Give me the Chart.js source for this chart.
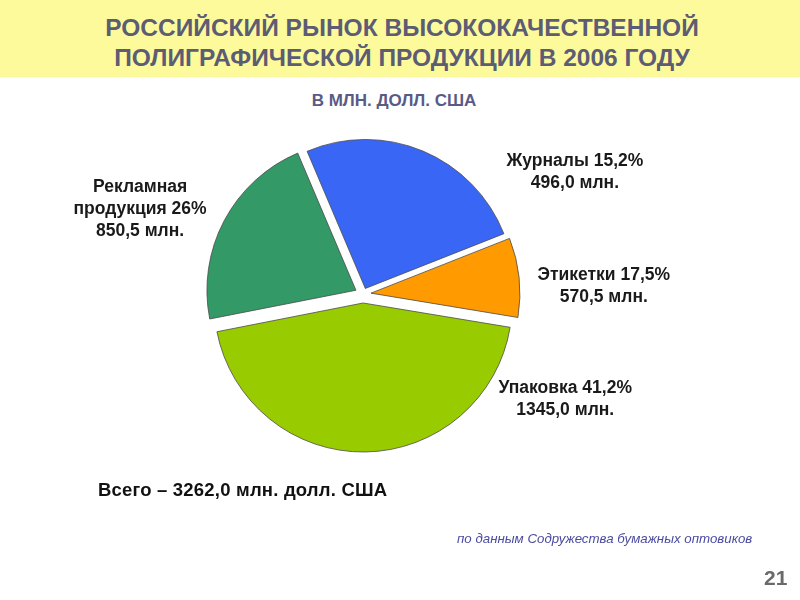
<!DOCTYPE html>
<html>
<head>
<meta charset="utf-8">
<script src="https://cdn.jsdelivr.net/npm/chart.js@4"></script>
<style>
    html, body { margin: 0; padding: 0; background: #ffffff; }
    body { width: 800px; height: 600px; position: relative; overflow: hidden; font-family: "Liberation Sans", Arial, sans-serif; }
    .band { position: absolute; left: 0; top: 0; width: 800px; height: 77px; background: #fdfa9c; }
    .title { position: absolute; left: 0; top: 13px; width: 804px; text-align: center; font-weight: bold; font-size: 24.5px; line-height: 30px; color: #5c5c74; }
    .sub { position: absolute; left: 0; top: 91px; width: 788px; text-align: center; font-weight: bold; font-size: 17px; color: #5a5a86; }
    .lbl { position: absolute; font-weight: bold; font-size: 17.5px; line-height: 22px; color: #1a1a1a; text-align: center; white-space: nowrap; }
    .total { position: absolute; left: 98px; top: 479px; font-weight: bold; font-size: 18.5px; letter-spacing: 0.2px; color: #111; }
    .src { position: absolute; left: 457px; top: 531px; font-style: italic; font-size: 13.3px; color: #4b4ba0; }
    .page { position: absolute; left: 764px; top: 566px; font-weight: bold; font-size: 21px; color: #6a6a6a; }
    #pieChart { position: absolute; left: 0; top: 0; }
</style>
</head>
<body>
<div class="band"></div>
<div class="title">РОССИЙСКИЙ РЫНОК ВЫСОКОКАЧЕСТВЕННОЙ<br>ПОЛИГРАФИЧЕСКОЙ ПРОДУКЦИИ В 2006 ГОДУ</div>
<div class="sub">В МЛН. ДОЛЛ. США</div>
<canvas id="pieChart" width="800" height="600"></canvas>
<div id="labels"></div>
<div class="total">Всего – 3262,0 млн. долл. США</div>
<div class="src">по данным Содружества бумажных оптовиков</div>
<div class="page">21</div>

<script>
// ================== DATA ==================
// slice order clockwise from the blue one
const categories = ['Журналы', 'Этикетки', 'Упаковка', 'Рекламная продукция'];
// slice sizes as drawn in the picture (% of circle)
const sliceShares = [25.4, 8.6, 44.3, 21.7];
const labelShares = ['15,2%', '17,5%', '41,2%', '26%'];
const labelAmounts = ['496,0 млн.', '570,5 млн.', '1345,0 млн.', '850,5 млн.'];
const sliceColors = ['#3a66f6', '#ff9a00', '#99cc00', '#339966'];

// how far each slice is pulled out of the pie (px)
const explodeBy = [6, 8, 9, 8];

// ================== LABELS ==================
const labelBoxes = [
    { x: 575, y: 149, lines: [categories[0] + ' ' + labelShares[0], labelAmounts[0]] },
    { x: 604, y: 263, lines: [categories[1] + ' ' + labelShares[1], labelAmounts[1]] },
    { x: 565, y: 376, lines: [categories[2] + ' ' + labelShares[2], labelAmounts[2]] },
    { x: 140, y: 175, lines: ['Рекламная', 'продукция ' + labelShares[3], labelAmounts[3]] }
];

const holder = document.getElementById('labels');
labelBoxes.forEach(b => {
    const d = document.createElement('div');
    d.className = 'lbl';
    d.innerHTML = b.lines.join('<br>');
    d.style.top = b.y + 'px';
    holder.appendChild(d);
    d.style.left = (b.x - d.offsetWidth / 2) + 'px';
});

// ================== EXPLODED SLICES ==================
// the built-in offset also grows the radius, so shift each arc by hand
const explodePlugin = {
    id: 'explode',
    beforeDatasetsDraw(chart) {
        const c = chart.ctx;
        chart.getDatasetMeta(0).data.forEach((arc, i) => {
            const mid = (arc.startAngle + arc.endAngle) / 2;
            c.save();
            c.translate(Math.cos(mid) * explodeBy[i], Math.sin(mid) * explodeBy[i]);
            arc.draw(c);
            c.restore();
        });
        return false;
    }
};

// ================== PIE ==================
const ctx = document.getElementById('pieChart').getContext('2d');
new Chart(ctx, {
    type: 'pie',
    data: {
        labels: categories,
        datasets: [{
            data: sliceShares,
            backgroundColor: sliceColors,
            borderColor: '#4a4a4a',
            borderWidth: 0.8
        }]
    },
    options: {
        responsive: false,
        animation: false,
        rotation: -23,
        radius: 149,
        layout: { padding: { left: 0, right: 74, top: 0, bottom: 12 } },
        plugins: {
            legend: { display: false },
            tooltip: { enabled: false }
        }
    },
    plugins: [explodePlugin]
});
</script>
</body>
</html>
